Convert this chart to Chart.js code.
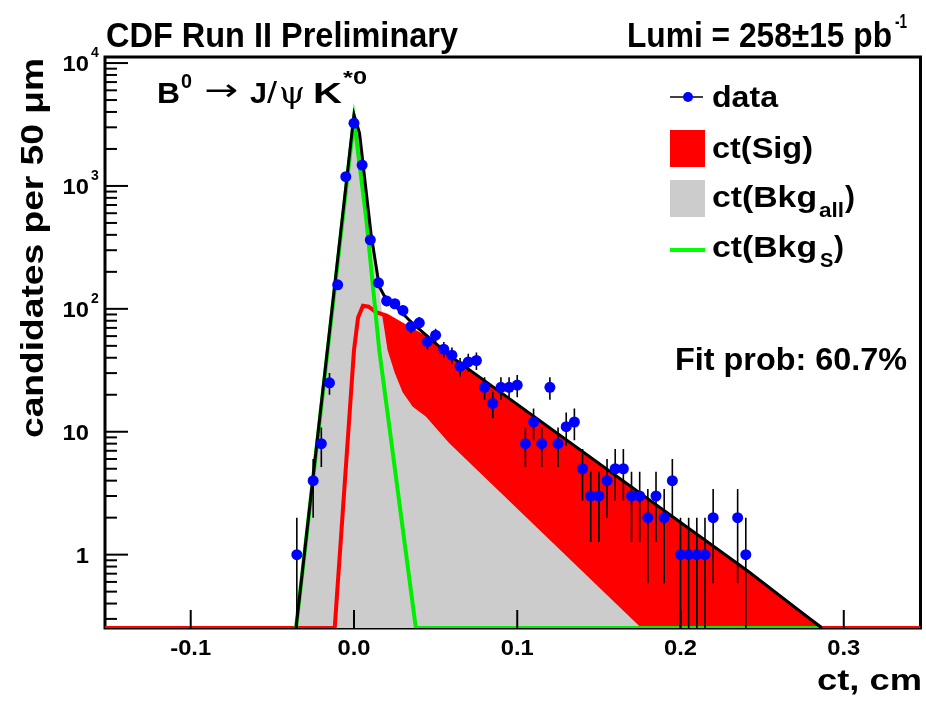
<!DOCTYPE html>
<html>
<head>
<meta charset="utf-8">
<script src="https://cdn.jsdelivr.net/npm/chart.js@4.4.1/dist/chart.umd.min.js"></script>
<style>
  html, body { margin: 0; padding: 0; background: #fff; }
  #wrap { width: 926px; height: 703px; }
</style>
</head>
<body>
<div id="wrap"><canvas id="myChart" width="926" height="703"></canvas></div>
<script>
// axis ranges
const X_MIN = -0.1525, X_MAX = 0.347;
const Y_MIN = 0.253, Y_MAX = 11200;
const xTicks = [-0.1, 0.0, 0.1, 0.2, 0.3];
const xTickLabels = ["-0.1", "0.0", "0.1", "0.2", "0.3"];
const yDecades = [1, 10, 100, 1000, 10000];
const yTickBase = ["1", "10", "10", "10", "10"];
const yTickExp = ["", "", "2", "3", "4"];

// data: bin centre (cm) and candidates per bin
const dataCt = [-0.035, -0.025, -0.02, -0.015, -0.01, -0.005, 0.0, 0.005, 0.01, 0.015,
  0.02, 0.025, 0.03, 0.035, 0.04, 0.045, 0.05, 0.055, 0.06, 0.065,
  0.07, 0.075, 0.08, 0.085, 0.09, 0.095, 0.1, 0.105, 0.11, 0.115,
  0.12, 0.125, 0.13, 0.135, 0.14, 0.145, 0.15, 0.155, 0.16, 0.165,
  0.17, 0.175, 0.18, 0.185, 0.19, 0.195, 0.2, 0.205, 0.21, 0.215,
  0.22, 0.235, 0.24];
const dataN = [1, 4, 8, 25, 157, 1190, 3240, 1480, 364, 163,
  116, 110, 97, 72, 77, 54, 61, 47, 42, 34,
  37, 38, 23, 17, 23, 23, 24, 8, 12, 8,
  23, 8, 11, 12, 5, 3, 3, 4, 5, 5,
  3, 3, 2, 3, 2, 4, 1, 1, 1, 1,
  2, 2, 1];

// fit curves (0 = below the axis)
const totX = [-0.0355, 0.0, 0.0034, 0.0104, 0.0155, 0.0185, 0.0216, 0.0359, 0.0583, 0.2416, 0.2865];
const totY = [0, 3800, 2690, 412, 152, 128, 118, 76, 42, 0.73, 0];
const sigX = [-0.1525, -0.0118, 0.0, 0.0025, 0.0055, 0.009, 0.0135, 0.02, 0.03, 0.042, 0.06, 0.2416, 0.2865, 0.347];
const sigY = [0, 0, 46, 85, 106, 104, 94, 88, 74, 60, 38, 0.69, 0, 0];
const bkgAllX = [-0.0355, 0.0, 0.0034, 0.0104, 0.0155, 0.0175, 0.0206, 0.025, 0.0298, 0.036, 0.044, 0.0584, 0.158, 0.176];
const bkgAllY = [0, 3700, 2600, 390, 145, 85, 46, 30, 21, 16, 13.3, 8.06, 0.43, 0];
const bkgSX = [-0.0355, 0.0, 0.0074, 0.0155, 0.0379, 0.285];
const bkgSY = [0, 3450, 560, 46, 0, 0];

const pts = (xs, ys) => xs.map((x, i) => ({ x: x, y: Math.max(ys[i], Y_MIN) }));

const FONT = '"Liberation Sans", Arial, Helvetica, sans-serif';

function txtF(ctx, s, x, y, font, align, width, sx) {
  ctx.save();
  ctx.font = font;
  ctx.textAlign = "left";
  ctx.textBaseline = "alphabetic";
  const m = ctx.measureText(s).width;
  const k = width ? width / m : (sx || 1);
  const w = m * k;
  const x0 = align === "right" ? x - w : align === "center" ? x - w / 2 : x;
  ctx.translate(x0, y);
  ctx.scale(k, 1);
  ctx.fillStyle = "#000";
  ctx.fillText(s, 0, 0);
  ctx.restore();
  return x0 + w;
}

function txt(ctx, s, x, y, size, align, width, sx) {
  return txtF(ctx, s, x, y, "bold " + size + "px " + FONT, align, width, sx);
}

const DATA_INDEX = 5;

const frameAndText = {
  id: "frameAndText",
  beforeDraw(chart) {
    const ctx = chart.ctx;
    ctx.save();
    ctx.fillStyle = "#fff";
    ctx.fillRect(0, 0, chart.width, chart.height);
    ctx.restore();
  },
  beforeDatasetsDraw(chart) {
    const { ctx, chartArea: a } = chart;
    ctx.save();
    ctx.strokeStyle = "#000";
    ctx.lineWidth = 3;
    ctx.strokeRect(a.left, a.top, a.right - a.left, a.bottom - a.top);
    ctx.restore();
  },
  beforeDatasetDraw(chart, args) {
    if (args.index !== DATA_INDEX) return;
    const { ctx, chartArea: a, scales } = chart;
    ctx.save();
    ctx.beginPath();
    ctx.rect(a.left, a.top, a.right - a.left, a.bottom - a.top);
    ctx.clip();
    ctx.strokeStyle = "#000";
    ctx.lineWidth = 1.6;
    dataCt.forEach((x, i) => {
      const n = dataN[i], e = Math.sqrt(n);
      const px = scales.x.getPixelForValue(x);
      const top = scales.y.getPixelForValue(n + e);
      const lo = n - e > Y_MIN ? scales.y.getPixelForValue(n - e) : a.bottom;
      ctx.beginPath();
      ctx.moveTo(px, top);
      ctx.lineTo(px, lo);
      ctx.stroke();
    });
    ctx.restore();
  },
  afterDatasetsDraw(chart) {
    const { ctx, chartArea: a, scales } = chart;
    ctx.save();
    ctx.strokeStyle = "#000";
    ctx.lineWidth = 2;
    // x ticks
    xTicks.forEach(v => {
      const px = scales.x.getPixelForValue(v);
      ctx.beginPath();
      ctx.moveTo(px, a.bottom);
      ctx.lineTo(px, a.bottom - 18);
      ctx.stroke();
    });
    // y ticks, majors and minors
    for (let d = -1; d <= 4; d++) {
      for (let m = 1; m <= 9; m++) {
        const v = m * Math.pow(10, d);
        if (v < Y_MIN || v > Y_MAX) continue;
        const py = scales.y.getPixelForValue(v);
        ctx.beginPath();
        ctx.moveTo(a.left, py);
        ctx.lineTo(a.left + (m === 1 ? 23 : 12), py);
        ctx.stroke();
      }
    }
    ctx.restore();

    // tick labels
    xTicks.forEach((v, i) => {
      txt(ctx, xTickLabels[i], scales.x.getPixelForValue(v), 655, 22, "center", null, 1.08);
    });
    yDecades.forEach((v, i) => {
      const py = scales.y.getPixelForValue(v);
      txt(ctx, yTickBase[i], 89, py + 8, 22, "right", null, 1.08);
      if (yTickExp[i]) txt(ctx, yTickExp[i], 91, py - 6, 14, "left");
    });

    // axis titles
    txt(ctx, "ct, cm", 922, 690, 29, "right", 105);
    ctx.save();
    ctx.translate(43, 58);
    ctx.rotate(-Math.PI / 2);
    txt(ctx, "candidates per 50 \u03bcm", 0, 0, 32, "right", 380);
    ctx.restore();

    // headers
    txt(ctx, "CDF Run II Preliminary", 106, 47, 35, "left", 352);
    txt(ctx, "Lumi = 258\u00b115 pb", 627, 47, 35, "left", 265);
    txt(ctx, "-1", 895, 28, 20, "left", 12);

    // decay label
    txt(ctx, "B", 157, 103, 29, "left", 23);
    txt(ctx, "0", 181, 88, 20, "left", 11);
    txtF(ctx, "\u2192", 204, 100, "30px 'DejaVu Sans', sans-serif", "left", 34);
    txt(ctx, "J", 250, 103, 29, "left", 17);
    txtF(ctx, "/", 267, 103, "29px " + FONT, "left", 10);
    txtF(ctx, "\u03c8", 279, 103, "30px 'DejaVu Serif', serif", "left", 26);
    txt(ctx, "K", 313, 103, 29, "left", 29);
    txt(ctx, "*0", 343, 84, 19, "left", 24);

    // legend
    ctx.save();
    ctx.strokeStyle = "#000";
    ctx.lineWidth = 1.5;
    ctx.beginPath(); ctx.moveTo(670, 97); ctx.lineTo(703, 97); ctx.stroke();
    ctx.fillStyle = "#0000ff";
    ctx.beginPath(); ctx.arc(688, 97, 5, 0, Math.PI * 2); ctx.fill();
    ctx.fillStyle = "#ff0000";
    ctx.fillRect(670, 130, 35, 37);
    ctx.fillStyle = "#cccccc";
    ctx.fillRect(670, 180, 35, 37);
    ctx.strokeStyle = "#00ff00";
    ctx.lineWidth = 4;
    ctx.beginPath(); ctx.moveTo(670, 250); ctx.lineTo(705, 250); ctx.stroke();
    ctx.restore();
    txt(ctx, "data", 712, 107, 30, "left", 66);
    txt(ctx, "ct(Sig)", 712, 158, 30, "left", 101);
    txt(ctx, "ct(Bkg", 712, 207, 30, "left", 105);
    txt(ctx, "all", 819, 217, 20, "left", 25);
    txt(ctx, ")", 845, 207, 30, "left");
    txt(ctx, "ct(Bkg", 712, 257, 30, "left", 105);
    txt(ctx, "S", 820, 267, 20, "left");
    txt(ctx, ")", 834, 257, 30, "left");

    txt(ctx, "Fit prob: 60.7%", 675, 370, 32, "left", 232);
  }
};

const config = {
  type: "scatter",
  data: {
    datasets: [
      { label: "ct(Sig) fill", data: pts(sigX, sigY), showLine: true, borderWidth: 0,
        borderColor: "rgba(0,0,0,0)", backgroundColor: "#ff0000", fill: "start", order: 6 },
      { label: "ct(Bkg all)", data: pts(bkgAllX, bkgAllY), showLine: true, borderWidth: 0,
        borderColor: "rgba(0,0,0,0)", backgroundColor: "#cccccc", fill: "start", order: 5 },
      { label: "ct(Sig)", data: pts(sigX, sigY), showLine: true, borderWidth: 4,
        borderColor: "#ff0000", fill: false, order: 4 },
      { label: "ct(Bkg S)", data: pts(bkgSX, bkgSY), showLine: true, borderWidth: 4,
        borderColor: "#00ee00", fill: false, order: 3 },
      { label: "total", data: pts(totX, totY), showLine: true, borderWidth: 3,
        borderColor: "#000000", fill: false, order: 2 },
      { label: "data", data: dataCt.map((x, i) => ({ x: x, y: dataN[i] })), showLine: false,
        pointRadius: 5.5, pointBackgroundColor: "#0000ff", pointBorderWidth: 0, order: 1 }
    ]
  },
  options: {
    responsive: false,
    animation: false,
    devicePixelRatio: 1,
    layout: { padding: { left: 105, right: 4, top: 57, bottom: 75 } },
    elements: { point: { radius: 0 }, line: { tension: 0 } },
    scales: {
      x: { type: "linear", min: X_MIN, max: X_MAX, display: false },
      y: { type: "logarithmic", min: Y_MIN, max: Y_MAX, display: false }
    },
    plugins: { legend: { display: false }, tooltip: { enabled: false } }
  },
  plugins: [frameAndText]
};

new Chart(document.getElementById("myChart").getContext("2d"), config);
</script>
</body>
</html>
